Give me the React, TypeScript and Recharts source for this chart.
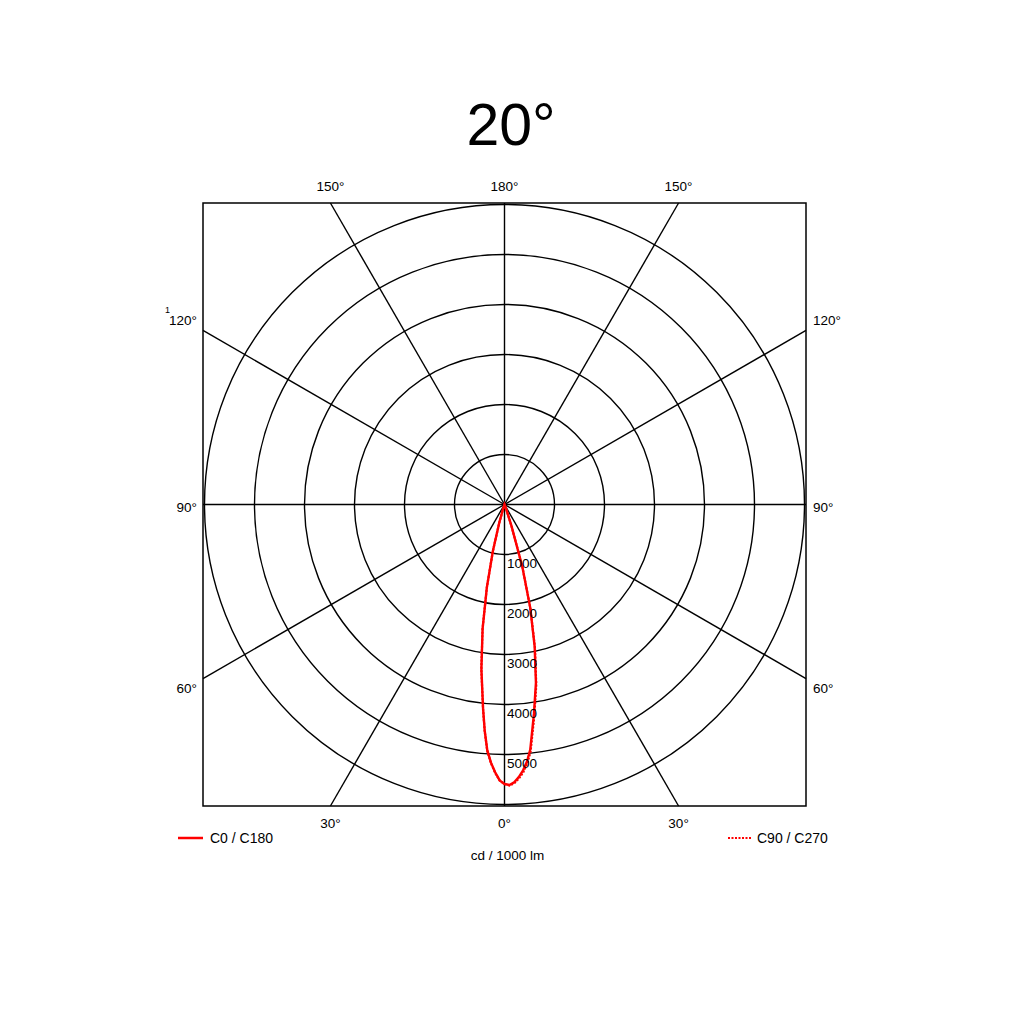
import React from 'react';
import {
  RadarChart,
  Radar,
  PolarGrid,
  PolarAngleAxis,
  PolarRadiusAxis,
} from 'recharts';

// gamma angles sampled on each half plane (degrees from nadir)
const gammas = [0, 1, 2, 3, 4, 5, 6, 8, 10, 12, 14, 16, 18, 20, 22, 24];
// cd / 1000 lm
const c0Values = [5590, 5610, 5560, 5460, 5330, 5160, 4930, 4230, 3620, 2900, 2130, 1290, 450, 120, 30, 0];
const c180Values = [5590, 5520, 5360, 5170, 4930, 4540, 4100, 3320, 2520, 1700, 960, 380, 80, 0, 0, 0];
const c90Values = [5590, 5620, 5580, 5490, 5370, 5200, 4980, 4280, 3660, 2930, 2140, 1290, 450, 120, 30, 0];
const c270Values = [5590, 5520, 5370, 5180, 4940, 4550, 4110, 3330, 2530, 1700, 960, 380, 80, 0, 0, 0];

const angleTicks = [0, 30, 60, 90, 120, 150, 180, 210, 240, 270, 300, 330];
const radiusTicks = [0, 1000, 2000, 3000, 4000, 5000, 6000];

const CX = 504.5;
const CY = 504.5;
const HALF = 301.5;
const FONT = '"Liberation Sans", Arial, sans-serif';
const RED = '#ff0000';

// right half = C0 / C90, left half = C180 / C270
const data = [
  ...gammas.map((g, i) => ({ angle: g, main: c0Values[i], cross: c90Values[i] })),
  ...gammas
    .map((g, i) => ({ angle: 360 - g, main: c180Values[i], cross: c270Values[i] }))
    .filter((d) => d.angle < 360)
    .reverse(),
];

function dirOf(v: number) {
  const th = ((v - 90) * Math.PI) / 180;
  return { dx: Math.cos(th), dy: -Math.sin(th) };
}

function AngleTick(props: any) {
  const v = Number(props.payload.value);
  const gamma = v <= 180 ? v : 360 - v;
  const { dx, dy } = dirOf(v);
  let x: number;
  let y: number;
  let anchor: 'start' | 'middle' | 'end' = 'middle';
  if (Math.abs(dy) >= Math.abs(dx) - 1e-9) {
    x = CX + (dx * HALF) / Math.abs(dy);
    y = dy > 0 ? CY + HALF + 17 : CY - HALF - 17;
  } else {
    const yb = CY + (dy * HALF) / Math.abs(dx);
    y = yb + (Math.abs(dy) < 1e-6 ? 3 : dy > 0 ? 10 : -10);
    x = dx > 0 ? CX + HALF + 7 : CX - HALF - 6;
    anchor = dx > 0 ? 'start' : 'end';
  }
  return (
    <text x={x} y={y} textAnchor={anchor} dominantBaseline="central" fontFamily={FONT} fontSize={13.5} fill="#000">
      {`${gamma}°`}
    </text>
  );
}

function RadiusTick(props: any) {
  const v = Number(props.payload.value);
  if (v === 0 || v === 6000) return <g />;
  return (
    <text x={props.x + 2.5} y={props.y + 8.5} textAnchor="start" dominantBaseline="central" fontFamily={FONT} fontSize={13.5} fill="#000">
      {v}
    </text>
  );
}

export default function App() {
  return (
    <div style={{ position: 'relative', width: 1024, height: 1024, margin: -8, background: '#fff' }}>
      <svg width={1024} height={1024} style={{ position: 'absolute', left: 0, top: 0 }}>
        <text x={511} y={145} textAnchor="middle" fontFamily={FONT} fontSize={59} fill="#000">
          20°
        </text>
        <rect x={CX - HALF} y={CY - HALF} width={HALF * 2} height={HALF * 2} fill="none" stroke="#000" strokeWidth={1.5} />
        {angleTicks.map((v) => {
          const { dx, dy } = dirOf(v);
          const t = HALF / Math.max(Math.abs(dx), Math.abs(dy));
          return <line key={v} x1={CX} y1={CY} x2={CX + dx * t} y2={CY + dy * t} stroke="#000" strokeWidth={1.4} />;
        })}
        <text x={165} y={313} fontFamily={FONT} fontSize={9} fill="#000">1</text>
        <line x1={178} y1={838} x2={203} y2={838} stroke={RED} strokeWidth={2.5} />
        <text x={210} y={838} dominantBaseline="central" fontFamily={FONT} fontSize={14} fill="#000">C0 / C180</text>
        <line x1={728} y1={838} x2={751} y2={838} stroke={RED} strokeWidth={2} strokeDasharray="2 1.5" />
        <text x={757} y={838} dominantBaseline="central" fontFamily={FONT} fontSize={14} fill="#000">C90 / C270</text>
        <text x={507.5} y={855} textAnchor="middle" dominantBaseline="central" fontFamily={FONT} fontSize={13.5} fill="#000">cd / 1000 lm</text>
      </svg>
      <div style={{ position: 'absolute', left: 0, top: 0 }}>
        <RadarChart
          width={1024}
          height={1024}
          data={data}
          cx={CX}
          cy={CY}
          innerRadius={0}
          outerRadius={300}
          startAngle={-90}
          endAngle={270}
          margin={{ top: 0, right: 0, bottom: 0, left: 0 }}
        >
          <PolarGrid gridType="circle" radialLines={false} stroke="#000" strokeWidth={1.4} />
          <PolarAngleAxis
            dataKey="angle"
            type="number"
            domain={[0, 360]}
            ticks={angleTicks}
            tick={AngleTick}
            axisLine={false}
            tickLine={false}
          />
          <PolarRadiusAxis
            angle={-90}
            type="number"
            domain={[0, 6000]}
            ticks={radiusTicks}
            tick={RadiusTick}
            axisLine={false}
            tickLine={false}
            allowDataOverflow
          />
          <Radar
            dataKey="cross"
            stroke={RED}
            strokeWidth={2.2}
            strokeDasharray="2 1.5"
            fill="none"
            fillOpacity={0}
            dot={false}
            isAnimationActive={false}
          />
          <Radar
            dataKey="main"
            stroke={RED}
            strokeWidth={2.4}
            fill="none"
            fillOpacity={0}
            dot={false}
            isAnimationActive={false}
          />
        </RadarChart>
      </div>
    </div>
  );
}
